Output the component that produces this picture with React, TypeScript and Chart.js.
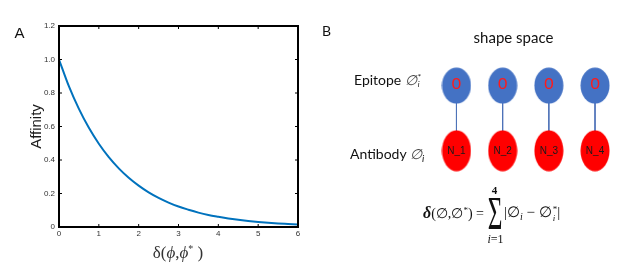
import React, { useEffect, useRef } from 'react';
import { Chart, registerables } from 'chart.js';

Chart.register(...registerables);

// ---- Panel A data ----
const distances = [0, 0.25, 0.5, 0.75, 1, 1.25, 1.5, 1.75, 2, 2.25, 2.5, 2.75, 3, 3.25, 3.5, 3.75, 4, 4.25, 4.5, 4.75, 5, 5.25, 5.5, 5.75, 6];
const affinity = [1.0, 0.839, 0.705, 0.592, 0.497, 0.417, 0.35, 0.294, 0.247, 0.207, 0.174, 0.146, 0.122, 0.103, 0.086, 0.072, 0.061, 0.051, 0.043, 0.036, 0.03, 0.025, 0.021, 0.018, 0.015];
const xMin = 0;
const xMax = 6;
const xStep = 1;
const yMin = 0;
const yMax = 1.2;
const yStep = 0.2;
const yTitle = 'Affinity';

// ---- Panel B data ----
const componentIndex = [1, 2, 3, 4];
const epitopeLabels = ['0', '0', '0', '0'];
const antibodyLabels = ['N_1', 'N_2', 'N_3', 'N_4'];
const epitopeRow = 1;
const antibodyRow = 0;

const SANS = "'Liberation Sans', Arial, sans-serif";
const CAL = "Lato, 'Open Sans', sans-serif";
const SERIF = "'Liberation Serif', 'DejaVu Serif', serif";

function makeEllipse(w: number, h: number, color: string) {
  const c = document.createElement('canvas');
  c.width = w;
  c.height = h;
  const g = c.getContext('2d')!;
  g.fillStyle = color;
  g.beginPath();
  g.ellipse(w / 2, h / 2, w / 2 - 0.5, h / 2 - 0.5, 0, 0, Math.PI * 2);
  g.fill();
  return c;
}

const framePlugin = {
  id: 'matlabFrame',
  afterDatasetsDraw(chart: any) {
    const { ctx, chartArea: a, scales } = chart;
    const L = 3;
    ctx.save();
    ctx.strokeStyle = '#000';
    ctx.lineWidth = 1;
    ctx.beginPath();
    scales.x.ticks.forEach((t: any) => {
      const px = scales.x.getPixelForValue(t.value);
      ctx.moveTo(px, a.bottom);
      ctx.lineTo(px, a.bottom - L);
      ctx.moveTo(px, a.top);
      ctx.lineTo(px, a.top + L);
    });
    scales.y.ticks.forEach((t: any) => {
      const py = scales.y.getPixelForValue(t.value);
      ctx.moveTo(a.left, py);
      ctx.lineTo(a.left + L, py);
      ctx.moveTo(a.right, py);
      ctx.lineTo(a.right - L, py);
    });
    ctx.stroke();
    ctx.lineWidth = 2;
    ctx.strokeRect(a.left, a.top, a.right - a.left, a.bottom - a.top);
    ctx.restore();
  },
};

const nodeLabelPlugin = {
  id: 'nodeLabels',
  afterDatasetsDraw(chart: any) {
    const ctx = chart.ctx;
    chart.data.datasets.forEach((ds: any, di: number) => {
      if (!ds.nodeLabels) return;
      const meta = chart.getDatasetMeta(di);
      meta.data.forEach((el: any, i: number) => {
        ctx.save();
        ctx.font = ds.labelFont;
        ctx.fillStyle = ds.labelColor;
        ctx.textAlign = 'center';
        ctx.textBaseline = 'middle';
        ctx.fillText(ds.nodeLabels[i], el.x, el.y + ds.labelOffset);
        ctx.restore();
      });
    });
  },
};

const T = (props: { x: number; y: number; center?: boolean; style?: any; children: any }) => (
  <div
    style={{
      position: 'absolute',
      left: props.x,
      top: props.y,
      transform: props.center ? 'translate(-50%,-50%)' : 'translateY(-50%)',
      lineHeight: 1,
      whiteSpace: 'nowrap',
      ...props.style,
    }}
  >
    {props.children}
  </div>
);

const SupSub = (p: { sup: string; sub: string; size: number }) => (
  <span
    style={{
      display: 'inline-flex',
      flexDirection: 'column',
      verticalAlign: 'middle',
      fontSize: p.size,
      lineHeight: 0.95,
      marginLeft: 1,
      textAlign: 'left',
    }}
  >
    <span>{p.sup}</span>
    <span style={{ fontStyle: 'italic' }}>{p.sub}</span>
  </span>
);

export default function App() {
  const refA = useRef<HTMLCanvasElement>(null);
  const refB = useRef<HTMLCanvasElement>(null);

  useEffect(() => {
    const chartA = new Chart(refA.current!, {
      type: 'line',
      data: {
        datasets: [
          {
            data: distances.map((d, i) => ({ x: d, y: affinity[i] })),
            borderColor: '#0072BD',
            borderWidth: 2,
            pointRadius: 0,
            cubicInterpolationMode: 'monotone',
            fill: false,
          } as any,
        ],
      },
      options: {
        responsive: false,
        animation: false,
        layout: { padding: { left: 0, top: 26, right: 22, bottom: 0 } },
        plugins: { legend: { display: false }, tooltip: { enabled: false } },
        scales: {
          x: {
            type: 'linear',
            min: xMin,
            max: xMax,
            ticks: { stepSize: xStep, font: { family: SANS, size: 8 }, color: '#333', padding: 2, maxRotation: 0 },
            grid: { display: false, drawTicks: false },
            border: { display: false },
            afterFit: (s: any) => {
              s.height = 41;
            },
          },
          y: {
            type: 'linear',
            min: yMin,
            max: yMax,
            ticks: { stepSize: yStep, font: { family: SANS, size: 8 }, color: '#333', padding: 4 },
            grid: { display: false, drawTicks: false },
            border: { display: false },
            title: {
              display: true,
              text: yTitle,
              font: { family: SANS, size: 15 },
              color: '#1a1a1a',
              padding: { top: 28, bottom: 0 },
            },
            afterFit: (s: any) => {
              s.width = 59;
            },
          },
        },
      } as any,
      plugins: [framePlugin],
    });

    const blue = makeEllipse(30, 37, '#4472C4');
    const red = makeEllipse(30, 42, '#FF0000');

    const links = componentIndex.map((i) => ({
      data: [
        { x: i, y: epitopeRow },
        { x: i, y: antibodyRow },
      ],
      showLine: true,
      borderColor: '#4f73b8',
      borderWidth: 1,
      pointRadius: 0,
      order: 2,
    }));

    const chartB = new Chart(refB.current!, {
      type: 'scatter',
      data: {
        datasets: [
          {
            data: componentIndex.map((i) => ({ x: i, y: epitopeRow })),
            pointStyle: blue,
            pointRadius: 15,
            order: 1,
            nodeLabels: epitopeLabels,
            labelFont: `16px ${CAL}`,
            labelColor: '#ff1a1a',
            labelOffset: -2,
          } as any,
          {
            data: componentIndex.map((i) => ({ x: i, y: antibodyRow })),
            pointStyle: red,
            pointRadius: 15,
            order: 1,
            nodeLabels: antibodyLabels,
            labelFont: `10px ${SANS}`,
            labelColor: '#1a1a1a',
            labelOffset: 0.5,
          } as any,
          ...(links as any[]),
        ],
      },
      options: {
        responsive: false,
        animation: false,
        layout: { padding: 0 },
        plugins: { legend: { display: false }, tooltip: { enabled: false } },
        scales: {
          x: { type: 'linear', min: -1.608, max: 4.649, display: false },
          y: { type: 'linear', min: -1.554, max: 2.068, display: false },
        },
      } as any,
      plugins: [nodeLabelPlugin],
    });

    return () => {
      chartA.destroy();
      chartB.destroy();
    };
  }, []);

  return (
    <div
      style={{
        position: 'fixed',
        left: 0,
        top: 0,
        width: 641,
        height: 268,
        background: '#fff',
        overflow: 'hidden',
      }}
    >
      <canvas ref={refA} width={320} height={268} style={{ position: 'absolute', left: 0, top: 0 }} />
      <canvas ref={refB} width={321} height={268} style={{ position: 'absolute', left: 320, top: 0 }} />

      <T x={19.5} y={31.5} center style={{ font: `15px ${SANS}`, color: '#111' }}>A</T>
      <T x={178} y={253} center style={{ font: `17px ${SERIF}`, color: '#333' }}>
        δ(<i>ϕ</i>,<i>ϕ</i>
        <sup style={{ fontSize: 10, verticalAlign: 6 }}>*</sup>&nbsp;)
      </T>

      <T x={326.5} y={30} center style={{ font: `14px ${CAL}`, color: '#111' }}>B</T>
      <T x={513.5} y={37} center style={{ font: `15px ${CAL}`, color: '#111' }}>shape space</T>

      <T x={354} y={80} style={{ font: `14px ${CAL}`, color: '#111' }}>
        Epitope <span style={{ fontStyle: 'italic', color: '#444' }}>∅</span>
        <SupSub sup="*" sub="i" size={8} />
      </T>
      <T x={350} y={154} style={{ font: `14px ${CAL}`, color: '#111' }}>
        Antibody <span style={{ fontStyle: 'italic', color: '#444' }}>∅</span>
        <i style={{ fontSize: 10, verticalAlign: -3 }}>i</i>
      </T>

      <T x={423} y={213} style={{ font: `14px ${SERIF}`, color: '#111' }}>
        <b><i style={{ fontSize: 16 }}>δ</i></b>(∅,∅<sup style={{ fontSize: 9, verticalAlign: 5 }}>*</sup>) =
      </T>
      <T x={495} y={214} center style={{ font: `28px ${SERIF}`, color: '#111', transform: 'translate(-50%,-50%) scale(0.9,1.65)' }}>
        Σ
      </T>
      <T x={494.5} y={190} center style={{ font: `bold 11px ${SERIF}`, color: '#111' }}>4</T>
      <T x={495.5} y={239} center style={{ font: `12px ${SERIF}`, color: '#111' }}>
        <i>i</i>=1
      </T>
      <T x={504} y={213} style={{ font: `15px ${SERIF}`, color: '#111' }}>
        |∅<i style={{ fontSize: 10, verticalAlign: -3 }}>i</i> − ∅<SupSub sup="*" sub="i" size={9} />|
      </T>
    </div>
  );
}
